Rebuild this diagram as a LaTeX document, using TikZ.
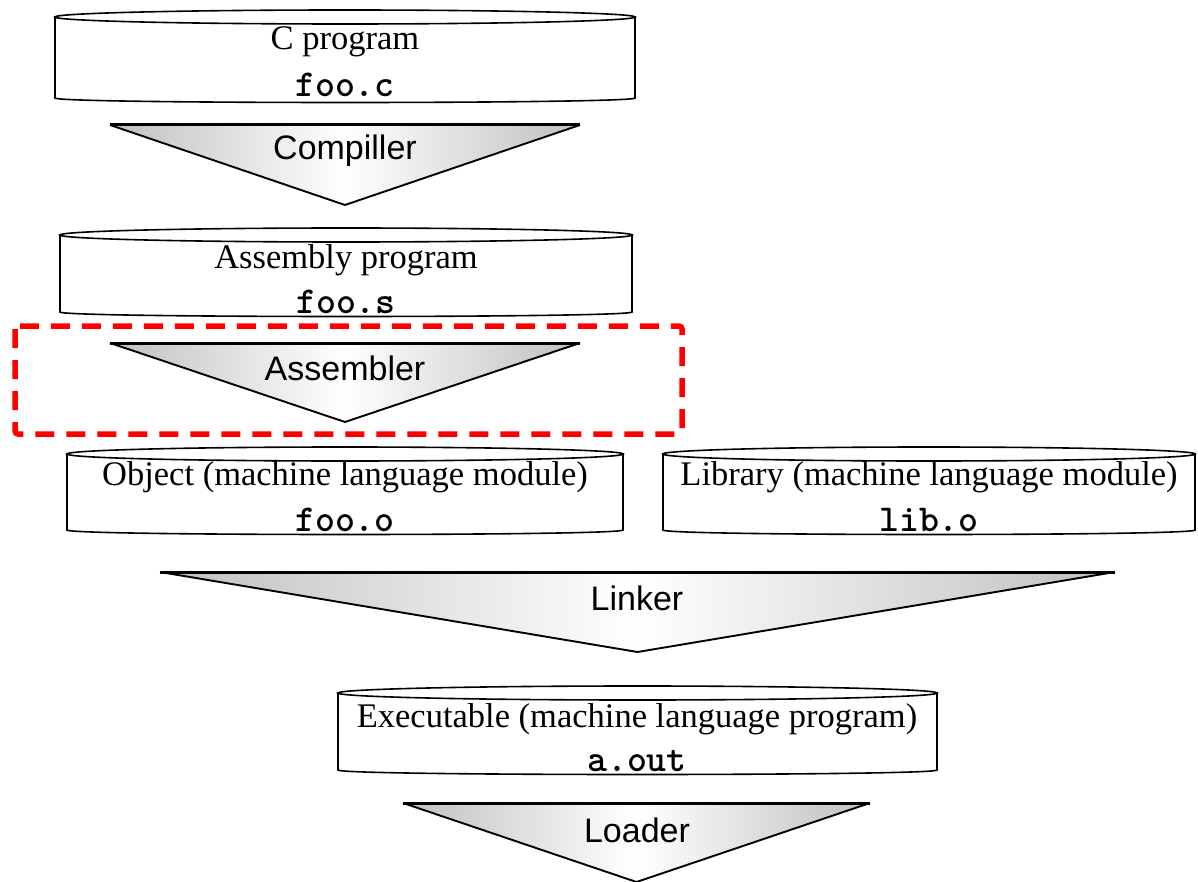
\documentclass[tikz,border=0pt]{standalone}
\usepackage{fontspec}
\setmainfont{Liberation Serif}
\setsansfont{Liberation Sans}

\tikzset{
  drumline/.style={draw=black, line width=1.6pt, fill=white},
  funnelfill/.style={left color=gray!50, right color=gray!50, middle color=white, shading angle=90},
  funnelline/.style={draw=black, line width=1.9pt, line join=miter},
  funneltop/.style={draw=black, line width=3pt},
  serif/.style={font=\fontsize{34.5}{40}\selectfont\rmfamily, inner sep=0pt},
  mono/.style={font=\fontsize{38}{42}\selectfont\ttfamily\bfseries, inner sep=0pt},
  sans/.style={font=\fontsize{34}{40}\selectfont\sffamily, inner sep=0pt},
  focus/.style={draw=red, line width=5.5pt, dash pattern=on 19pt off 12pt, rounded corners=3pt}
}

% data store drum: #1 left x, #2 right x, #3 y of top rim, #4 y of bottom rim
\newcommand\drum[4]{%
  \pgfmathsetmacro\drumcx{(#1+#2)/2}%
  \pgfmathsetmacro\drumrx{(#2-#1)/2}%
  \draw[drumline] (#1,#3) -- (#1,#4) .. controls (#1,#4+6) and (#2,#4+6) .. (#2,#4) -- (#2,#3) -- cycle;
  \draw[drumline] (\drumcx,#3) ellipse [x radius=\drumrx pt, y radius=7pt];
}

% processing funnel: #1 left x, #2 right x, #3 y of top edge, #4 y of tip
\newcommand\funnel[4]{%
  \pgfmathsetmacro\funcx{(#1+#2)/2}%
  \shade[funnelfill] (#1,#3) -- (#2,#3) -- (\funcx,#4) -- cycle;
  \draw[funnelline] (#1,#3) -- (\funcx,#4) -- (#2,#3);
  \draw[funneltop] (#1,#3) -- (#2,#3);
}

\begin{document}
\begin{tikzpicture}[x=1pt, y=-1pt]
  \useasboundingbox (0,0) rectangle (1198,882);

  % source file
  \drum{55}{635}{17}{98}
  \node[serif] (csrc) at (345,42) {C program};
  \node[mono]  (fooc) at (345,85) {foo.c};

  \funnel{110}{580}{125}{205}
  \node[sans] (compiler) at (345,151) {Compiller};

  % assembly file
  \drum{60}{632}{235}{312}
  \node[serif] (asmsrc) at (346,260) {Assembly program};
  \node[mono]  (foos)   at (346,302) {foo.s};

  \funnel{110}{580}{343}{422}
  \node[sans] (assembler) at (345,368) {Assembler};

  % highlighted step
  \draw[focus] (15,326) rectangle (682,434);

  % object modules
  \drum{67}{623}{454}{530}
  \node[serif] (objmod) at (345,477) {Object (machine language module)};
  \node[mono]  (fooo)   at (345,520) {foo.o};

  \drum{663}{1195}{454}{530}
  \node[serif] (libmod) at (929,477) {Library (machine language module)};
  \node[mono]  (libo)   at (929,520) {lib.o};

  \funnel{160}{1115}{572}{652}
  \node[sans] (linker) at (637,598) {Linker};

  % executable
  \drum{338}{937}{693}{770}
  \node[serif] (exe)  at (637,719) {Executable (machine language program)};
  \node[mono]  (aout) at (637,761) {a.out};

  \funnel{403}{870}{803}{882}
  \node[sans] (loader) at (637,830) {Loader};
\end{tikzpicture}
\end{document}
